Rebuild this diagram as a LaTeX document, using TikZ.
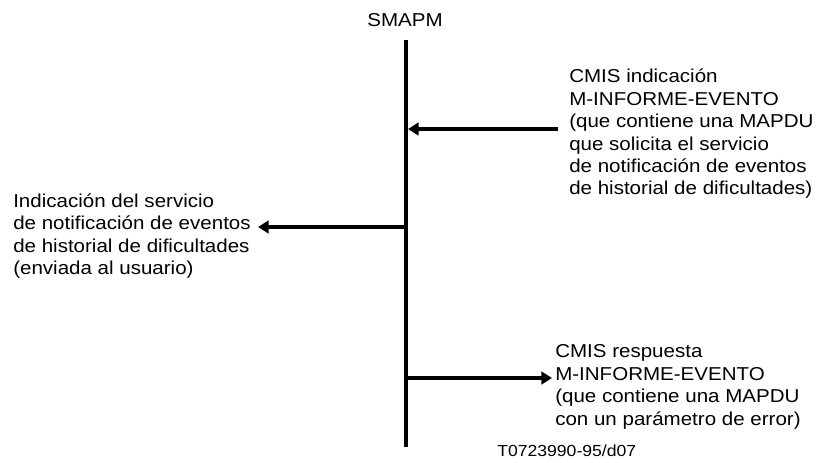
\documentclass[tikz,border=0pt]{standalone}
\usepackage{fontspec}
\setmainfont[FakeStretch=1.1]{Liberation Sans}
\usetikzlibrary{positioning, arrows.meta}

\begin{document}
\begin{tikzpicture}[x=0.75pt, y=-0.75pt,
        every node/.style={inner sep=0pt, font=\fontsize{14}{16.8}\selectfont},
        txt/.style={align=left, anchor=west},
        msg/.style={-{Triangle[length=8pt, width=9.5pt]}, line width=2.5pt},
        life/.style={line width=3.2pt}]
        \useasboundingbox (0,0) rectangle (824,462);

        \node (smapm) at (405,20) {SMAPM};
        \coordinate (top) at (406,40);
        \coordinate (bot) at (406,447);
        \draw[life] (top) -- (bot);

        % entrada desde la derecha
        \node[txt] (ind) at (569,134) {CMIS indicación\\M-INFORME-EVENTO\\(que contiene una MAPDU\\que solicita el servicio\\de notificación de eventos\\de historial de dificultades)};
        \coordinate (in0) at (558,129);
        \coordinate (in1) at (408,129);
        \draw[msg] (in0) -- (in1);

        % hacia el usuario
        \node[txt] (usr) at (13,236) {Indicación del servicio\\de notificación de eventos\\de historial de dificultades\\(enviada al usuario)};
        \coordinate (us0) at (406,227);
        \coordinate (us1) at (258,227);
        \draw[msg] (us0) -- (us1);

        % respuesta
        \node[txt] (resp) at (555,387) {CMIS respuesta\\M-INFORME-EVENTO\\(que contiene una MAPDU\\con un parámetro de error)};
        \coordinate (re0) at (406,378);
        \coordinate (re1) at (552,378);
        \draw[msg] (re0) -- (re1);

        \node[font=\fontsize{12}{14}\selectfont, anchor=west] (ref) at (497,451) {T0723990-95/d07};
    \end{tikzpicture}
\end{document}
